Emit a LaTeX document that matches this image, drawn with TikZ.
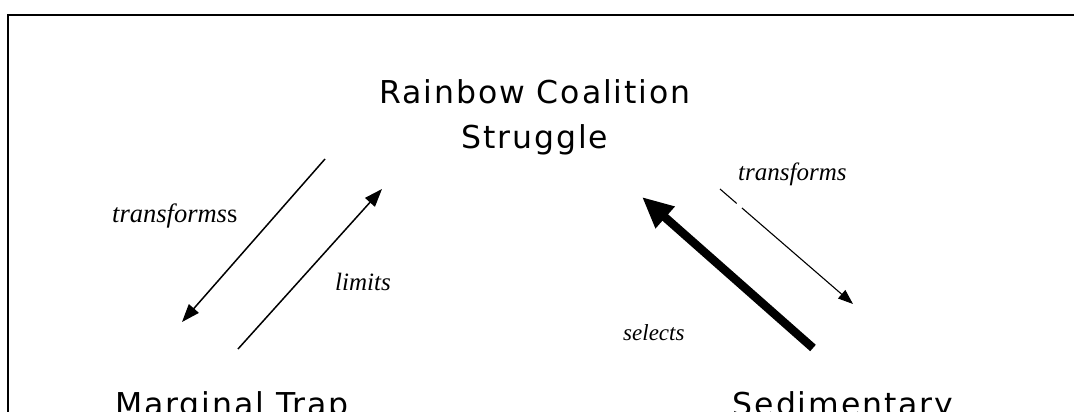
\documentclass[tikz,border=0pt]{standalone}
\usepackage{fontspec}
\setmainfont{Liberation Serif}
\newfontfamily\conceptfont[LetterSpace=6]{DejaVu Sans}
\usetikzlibrary{arrows.meta}
\begin{document}
\begin{tikzpicture}[x=1pt,y=-1pt,
  concept/.style={font=\conceptfont\fontsize{31.5}{45}\selectfont, inner sep=0pt, align=center},
  verb/.style={font=\itshape\fontsize{25}{30}\selectfont, inner sep=0pt, anchor=base west},
  thinarrow/.style={line width=1.5pt, -{Triangle[length=18pt,width=13pt]}},
  fatarrow/.style={line width=8.5pt, -{Triangle[length=31pt,width=27pt]}},
  hairarrow/.style={line width=1.1pt, -{Triangle[length=15pt,width=11pt]}},
]
\clip (0,0) rectangle (1074,412);
\fill[white] (0,0) rectangle (1074,412);
\draw[line width=2pt] (7.5,430) -- (7.5,15.5) -- (1090,15.5);

\node[concept, anchor=base] (rc) at (535,148) {Rainbow Coalition\\Struggle};
\node[concept, anchor=base] (mt) at (232,415) {Marginal Trap};
\node[concept, anchor=base] (sd) at (843,415) {Sedimentary};

\coordinate (lts) at (325,159);
\coordinate (lte) at (182,322);
\coordinate (lis) at (238,349);
\coordinate (lie) at (382,189);
\coordinate (ses) at (813,348);
\coordinate (see) at (642,197);
\coordinate (trs) at (720,189);
\coordinate (tre) at (853,304);

\draw[thinarrow] (lts) -- (lte);
\draw[thinarrow] (lis) -- (lie);
\draw[fatarrow] (ses) -- (see);
\draw[hairarrow, dash pattern={on 22pt off 7pt on 400pt}] (trs) -- (tre);

\node[verb, font=\itshape\fontsize{26.5}{30}\selectfont] (ltl) at (112,222) {transforms\upshape s};
\node[verb] (lil) at (335,290) {limits};
\node[verb] (trl) at (738,180) {transforms};
\node[verb, font=\itshape\fontsize{23}{30}\selectfont] (sel) at (623,340) {selects};
\end{tikzpicture}
\end{document}
